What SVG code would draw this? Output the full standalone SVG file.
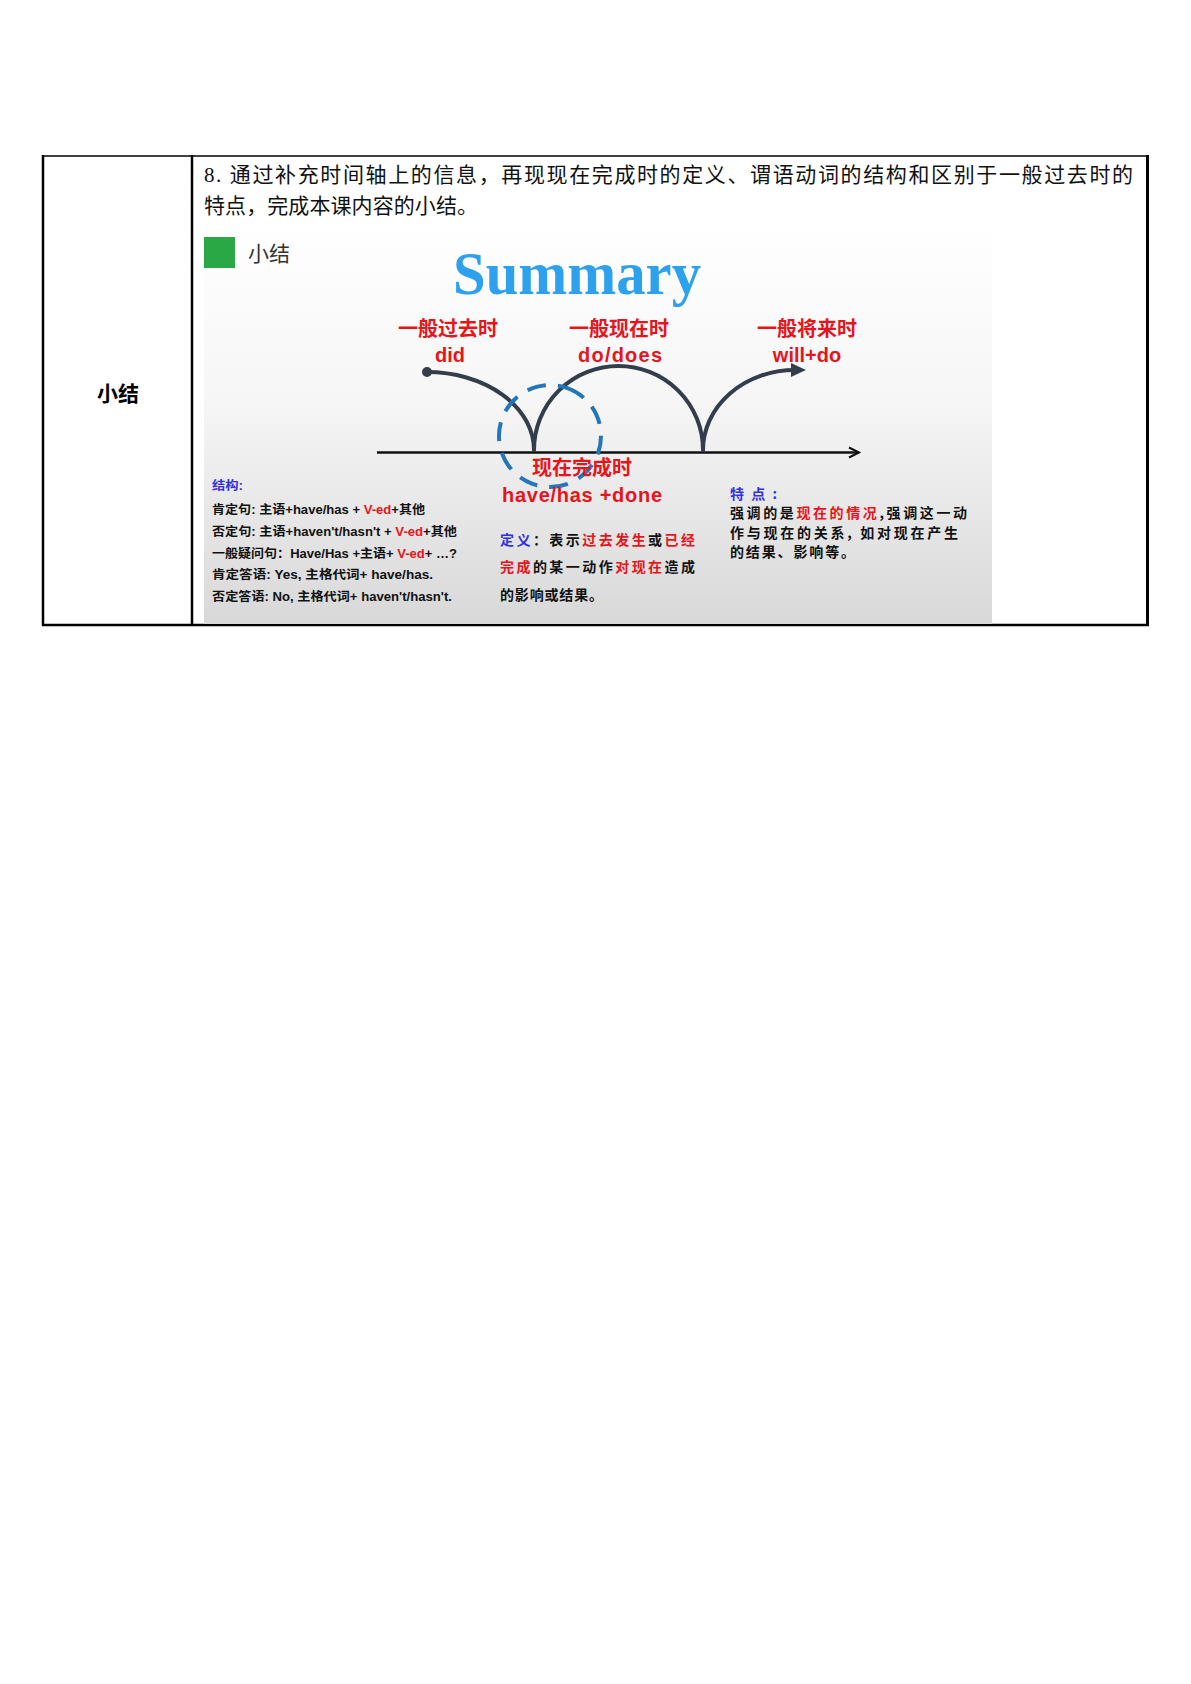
<svg xmlns="http://www.w3.org/2000/svg" width="1191" height="1684" viewBox="0 0 1191 1684">
<style>
.doc{font-family:"Liberation Serif","Noto Sans CJK SC",serif;font-size:21px;fill:#111}
.cell{font-family:"Liberation Sans","Noto Sans CJK SC",sans-serif;font-size:21px;font-weight:bold;fill:#000}
.red{font-family:"Noto Sans CJK SC","Liberation Sans",sans-serif;font-size:20px;font-weight:bold;fill:#e8141b}
.redl{font-family:"Liberation Sans","Noto Sans CJK SC",sans-serif;font-size:20px;font-weight:bold;fill:#e8141b}
.sm{font-family:"Liberation Sans","Noto Sans CJK SC",sans-serif;font-size:12px;font-weight:bold;fill:#111}
.md{font-family:"Noto Sans CJK SC","Liberation Sans",sans-serif;font-size:14px;font-weight:bold;fill:#111}
.r{fill:#e8141b}
.b{fill:#3030e8}
.arc{fill:none;stroke:#343d4c;stroke-width:4;stroke-linecap:round}
.tb{stroke:#000;fill:none}
</style>
<defs>
<linearGradient id="bg" x1="0" y1="0" x2="0" y2="1">
<stop offset="0" stop-color="#ffffff"/>
<stop offset="0.45" stop-color="#f6f6f6"/>
<stop offset="1" stop-color="#d8d8d8"/>
</linearGradient>
<marker id="chev" markerUnits="userSpaceOnUse" markerWidth="14" markerHeight="14" refX="11" refY="6" orient="auto" viewBox="0 0 14 12">
<path d="M1,1 L11,6 L1,11" fill="none" stroke="#111" stroke-width="2"/>
</marker>
<marker id="tri" markerUnits="userSpaceOnUse" markerWidth="16" markerHeight="16" refX="4" refY="7" orient="auto" viewBox="0 0 16 14">
<path d="M0,0 L15,7 L0,14 z" fill="#343d4c"/>
</marker>
</defs>
<rect width="1191" height="1684" fill="#fff"/>

<g id="table">
<line class="tb" x1="42" y1="156" x2="1149" y2="156" stroke-width="1.5"/>
<line class="tb" x1="43" y1="155" x2="43" y2="626" stroke-width="2.5"/>
<line class="tb" x1="192" y1="155" x2="192" y2="626" stroke-width="2.5"/>
<line class="tb" x1="1147.5" y1="155" x2="1147.5" y2="626" stroke-width="3"/>
<line class="tb" x1="42" y1="625" x2="1149" y2="625" stroke-width="2.5"/>
</g>

<g id="row-label">
<text class="cell" x="118" y="401" text-anchor="middle">小结</text>
</g>

<g id="step-text">
<text class="doc" x="204" y="181.5" textLength="929" lengthAdjust="spacing">8. 通过补充时间轴上的信息，再现现在完成时的定义、谓语动词的结构和区别于一般过去时的</text>
<text class="doc" x="204" y="212.5" textLength="274" lengthAdjust="spacing">特点，完成本课内容的小结。</text>
</g>

<g id="picture">
<rect x="204" y="220" width="788" height="404" fill="url(#bg)"/>
</g>

<g id="slide-title">
<rect x="204" y="237" width="31" height="31" fill="#2aa846"/>
<text x="248" y="260.5" font-family="Noto Sans CJK SC, sans-serif" font-size="21" fill="#333">小结</text>
</g>

<g id="summary-heading">
<text x="453" y="294" font-family="Liberation Serif, serif" font-size="62" font-weight="bold" fill="#2ea1ee" textLength="248" lengthAdjust="spacingAndGlyphs">Summary</text>
</g>

<g id="connectors">
<line x1="377" y1="452.5" x2="859" y2="452.5" stroke="#111" stroke-width="2.5" marker-end="url(#chev)"/>
<circle cx="427" cy="372" r="5" fill="#343d4c"/>
<path class="arc" d="M427,372 A107,78 0 0 1 534,450"/>
<path class="arc" d="M534,450 A84.5,84 0 0 1 703,450"/>
<path class="arc" d="M703,450 A92,80 0 0 1 795,370" marker-end="url(#tri)"/>
<circle cx="550" cy="436" r="51" fill="none" stroke="#2376b7" stroke-width="4" stroke-dasharray="19 12" transform="rotate(-70 550 436)"/>
</g>

<g id="past-simple">
<text class="red" x="448" y="336" text-anchor="middle">一般过去时</text>
<text class="redl" x="450" y="362" text-anchor="middle">did</text>
</g>
<g id="present-simple">
<text class="red" x="619" y="336" text-anchor="middle">一般现在时</text>
<text class="redl" x="620" y="362" text-anchor="middle" textLength="84" lengthAdjust="spacing">do/does</text>
</g>
<g id="future-simple">
<text class="red" x="807" y="336" text-anchor="middle">一般将来时</text>
<text class="redl" x="807" y="362" text-anchor="middle">will+do</text>
</g>
<g id="present-perfect">
<text class="red" x="582" y="475" text-anchor="middle">现在完成时</text>
<text class="redl" x="582" y="502" text-anchor="middle" textLength="160" lengthAdjust="spacing">have/has +done</text>
</g>

<g id="structure">
<text class="sm b" x="212" y="489.5" textLength="31" lengthAdjust="spacingAndGlyphs">结构:</text>
<text class="sm" x="212" y="513.5" textLength="213" lengthAdjust="spacingAndGlyphs">肯定句: 主语+have/has + <tspan class="r">V-ed</tspan>+其他</text>
<text class="sm" x="212" y="535.5" textLength="245" lengthAdjust="spacingAndGlyphs">否定句: 主语+haven't/hasn't + <tspan class="r">V-ed</tspan>+其他</text>
<text class="sm" x="212" y="557.5" textLength="245" lengthAdjust="spacingAndGlyphs">一般疑问句：Have/Has +主语+ <tspan class="r">V-ed</tspan>+ …?</text>
<text class="sm" x="212" y="578.5" textLength="221" lengthAdjust="spacingAndGlyphs">肯定答语: Yes, 主格代词+ have/has.</text>
<text class="sm" x="212" y="600.5" textLength="240" lengthAdjust="spacingAndGlyphs">否定答语: No, 主格代词+ haven't/hasn't.</text>
</g>

<g id="definition">
<text class="md" x="500" y="545" textLength="195" lengthAdjust="spacing"><tspan class="b">定义</tspan>：表示<tspan class="r">过去发生</tspan>或<tspan class="r">已经</tspan></text>
<text class="md" x="500" y="572" textLength="195" lengthAdjust="spacing"><tspan class="r">完成</tspan>的某一动作<tspan class="r">对现在</tspan>造成</text>
<text class="md" x="500" y="600" textLength="103" lengthAdjust="spacing">的影响或结果。</text>
</g>

<g id="features">
<text class="md b" x="730" y="499" textLength="47" lengthAdjust="spacing">特点:</text>
<text class="md" x="730" y="518" textLength="237" lengthAdjust="spacing">强调的是<tspan class="r">现在的情况</tspan>,强调这一动</text>
<text class="md" x="730" y="538" textLength="228" lengthAdjust="spacing">作与现在的关系, 如对现在产生</text>
<text class="md" x="730" y="557" textLength="125" lengthAdjust="spacing">的结果、影响等。</text>
</g>
</svg>
